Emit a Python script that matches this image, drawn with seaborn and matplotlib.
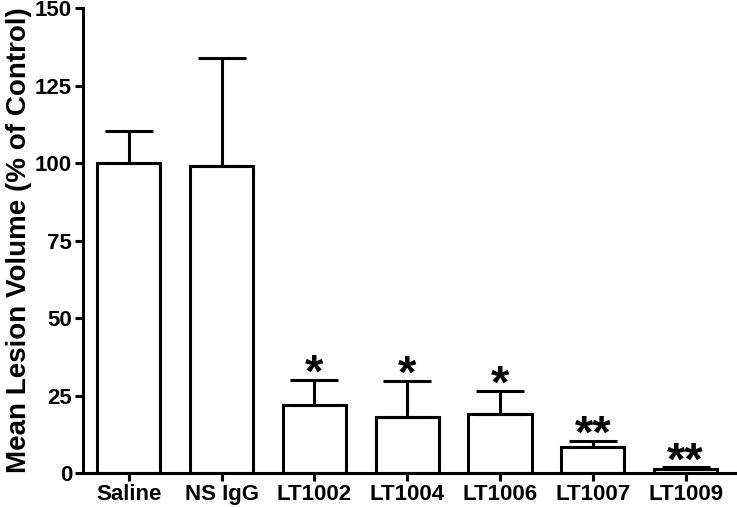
import matplotlib
matplotlib.use("Agg")
import matplotlib.pyplot as plt
import seaborn as sns
import pandas as pd
import numpy as np

groups = ["Saline", "NS IgG", "LT1002", "LT1004", "LT1006", "LT1007", "LT1009"]
mean_volume = [100, 99, 21.8, 18.0, 19.0, 8.3, 1.3]
sem_upper = [10.3, 35.0, 8.3, 11.8, 7.5, 2.0, 0.5]
stars = ["", "", "*", "*", "*", "**", "**"]

df = pd.DataFrame({"group": groups, "volume": mean_volume})

sns.set_style("ticks")
plt.rcParams["font.family"] = ["Liberation Sans", "DejaVu Sans"]
plt.rcParams["font.weight"] = "bold"
plt.rcParams["text.color"] = "black"
plt.rcParams["axes.labelcolor"] = "black"
plt.rcParams["xtick.color"] = "black"
plt.rcParams["ytick.color"] = "black"
plt.rcParams["axes.edgecolor"] = "black"

fig = plt.figure(figsize=(7.37, 5.07), dpi=100)
ax = fig.add_axes([0.113, 0.067, 0.884, 0.917])

sns.barplot(data=df, x="group", y="volume", color="white", edgecolor="black",
            linewidth=2.2, width=0.68, errorbar=None, ax=ax)

x = np.arange(len(groups))
ax.errorbar(x, mean_volume, yerr=[np.zeros(len(groups)), sem_upper], fmt="none",
            ecolor="black", elinewidth=2.2, capsize=17, capthick=2.2, zorder=1)

for i, s in enumerate(stars):
    if s:
        ax.text(x[i], mean_volume[i] + sem_upper[i] - 5.5, s, ha="center", va="bottom",
                fontsize=34, fontweight="bold", color="black")

ax.set_xlim(-0.49, 6.53)
ax.set_ylim(0, 150)
ax.set_yticks([0, 25, 50, 75, 100, 125, 150])
ax.set_xlabel("")
ax.set_ylabel("Mean Lesion Volume (% of Control)", fontsize=20, fontweight="bold", labelpad=2)
ax.tick_params(axis="both", width=2.2, length=6, labelsize=16, pad=2)
for lab in ax.get_xticklabels() + ax.get_yticklabels():
    lab.set_fontweight("bold")
sns.despine(ax=ax)
ax.spines["left"].set_linewidth(2.2)
ax.spines["bottom"].set_linewidth(2.2)

fig.savefig("out.png", dpi=100)
